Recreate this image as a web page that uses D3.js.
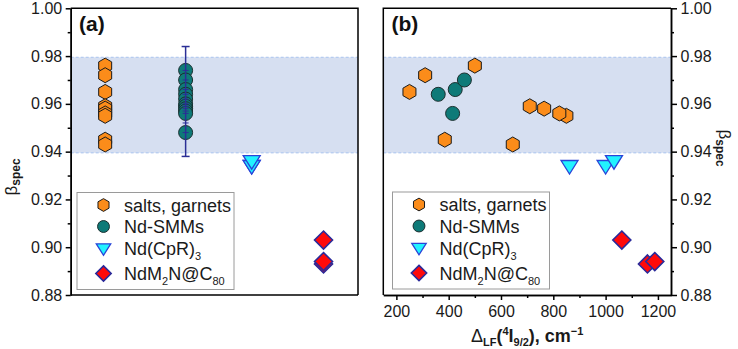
<!DOCTYPE html>
<html>
<head>
<meta charset="utf-8">
<script src="https://cdn.jsdelivr.net/npm/d3@7"></script>
<style>
  body { margin: 0; background: #fff; }
  text { font-family: "Liberation Sans", Arial, sans-serif; }
</style>
</head>
<body>
<svg></svg>
<script>
// ---- data ----
const groups = ["salts, garnets", "Nd-SMMs", "Nd(CpR)3", "NdM2N@C80"]
const groupX = [1.2, 4.0, 6.3, 8.8]          // category position in panel (a)

// panel (a): beta_spec only
const saltsBeta = [0.976, 0.972, 0.965, 0.959, 0.958, 0.956, 0.955, 0.945, 0.943]
const smmBetaA = [0.974, 0.970, 0.966, 0.964, 0.962, 0.960, 0.959, 0.958, 0.957, 0.956, 0.948]
const cprBeta = [0.934, 0.934, 0.936]
const fullBeta = [0.903, 0.893, 0.894]
const smmRange = [0.938, 0.984]
const smmCaps = [0.952]

// panel (b): LF splitting vs beta_spec
const saltsLF = [250, 310, 385, 500, 645, 710, 765, 850, 823]
const saltsBetaB = [0.965, 0.972, 0.945, 0.976, 0.943, 0.959, 0.958, 0.955, 0.956]
const smmLF = [360, 415, 425, 460]
const smmBetaB = [0.964, 0.956, 0.966, 0.970]
const cprLF = [862, 1000, 1032]
const fullLF = [1062, 1160, 1188]

const band = [0.9395, 0.9795]
const yMajor = [0.88, 0.90, 0.92, 0.94, 0.96, 0.98, 1.00]
const yMinor = [0.89, 0.91, 0.93, 0.95, 0.97, 0.99]
const xMajor = [200, 400, 600, 800, 1000, 1200]
const xMinor = [300, 500, 700, 900, 1100]

// ---- layout ----
const width = 738, height = 349
const svg = d3.select("svg").attr("width", width).attr("height", height)
svg.append("rect").attr("width", width).attr("height", height).attr("fill", "#fff")

const y = d3.scaleLinear().domain([0.88, 1.00]).range([295, 8.3])
const xA = d3.scaleLinear().domain([0, 10]).range([70.7, 358])
const xB = d3.scaleLinear().domain([150, 1250]).range([383.3, 671])

// symbols
const hexPath = r => d3.line()(d3.range(6).map(k => {
  const a = (-90 + 60 * k) * Math.PI / 180
  return [r * Math.cos(a), r * Math.sin(a)]
})) + "Z"
const triPath = s => `M${-8.5*s},${-5.5*s}L${8.5*s},${-5.5*s}L0,${8*s}Z`
const diaPath = s => `M0,${-9*s}L${9*s},0L0,${9*s}L${-9*s},0Z`

const styles = [
  {d: s => hexPath(7.5 * s), fill: "#fb8c1a", stroke: "#1a1a1a", sw: 1},
  {d: s => d3.symbol(d3.symbolCircle, Math.PI * 49 * s * s)(), fill: "#0e7a78", stroke: "#1b2f2f", sw: 1},
  {d: s => triPath(s), fill: "#22f2ff", stroke: "#2a44d8", sw: 1.3},
  {d: s => diaPath(s), fill: "#ff0a0a", stroke: "#2a2a9a", sw: 1.6}
]

function drawMarks(g, xs, ys, st, s) {
  g.append("g").selectAll("path")
    .data(d3.zip(xs, ys))
    .enter().append("path")
    .attr("d", st.d(s))
    .attr("transform", d => `translate(${d[0]},${d[1]})`)
    .attr("fill", st.fill)
    .attr("stroke", st.stroke)
    .attr("stroke-width", st.sw)
}

function drawBand(g, x) {
  const [x0, x1] = x.range()
  g.append("rect")
    .attr("x", x0).attr("width", x1 - x0)
    .attr("y", y(band[1])).attr("height", y(band[0]) - y(band[1]))
    .attr("fill", "#d6dff1")
  g.selectAll(".bandline").data(band).enter().append("line")
    .attr("x1", x0).attr("x2", x1)
    .attr("y1", d => y(d)).attr("y2", d => y(d))
    .attr("stroke", "#a9c3ee").attr("stroke-width", 1).attr("stroke-dasharray", "3,2")
}

function drawLegend(g, x0, y0) {
  g.append("rect").attr("x", x0).attr("y", y0).attr("width", 157).attr("height", 97)
    .attr("fill", "#fff").attr("stroke", "#9a9a9a").attr("stroke-width", 1)
  const rows = [12.5, 34, 56, 81]
  const labels = [
    [["salts, garnets", 0]],
    [["Nd-SMMs", 0]],
    [["Nd(CpR)", 0], ["3", 1]],
    [["NdM", 0], ["2", 1], ["N@C", 0], ["80", 1]]
  ]
  groups.forEach((name, i) => {
    drawMarks(g, [x0 + 26.5], [y0 + rows[i]], styles[i], 0.85)
    const t = g.append("text").attr("x", x0 + 47).attr("y", y0 + rows[i] + 6.5)
      .attr("font-size", 18).attr("fill", "#1a1a1a")
    let sub = false
    labels[i].forEach(([s, isSub]) => {
      const ts = t.append("tspan").text(s)
      if (isSub && !sub) ts.attr("font-size", 11).attr("dy", 5)
      if (!isSub && sub) ts.attr("dy", -5)
      sub = !!isSub
    })
  })
}

function styleAxis(ag) {
  ag.selectAll("path, line").attr("stroke", "#000").attr("stroke-width", 1.5)
  ag.selectAll("text").attr("font-size", 16).attr("fill", "#1a1a1a")
    .attr("font-family", "'Liberation Sans', Arial, sans-serif")
}

// ---- panel (a) ----
const gA = svg.append("g")
drawBand(gA, xA)
drawMarks(gA, saltsBeta.map(() => xA(groupX[0])), saltsBeta.map(y), styles[0], 1)
drawMarks(gA, smmBetaA.map(() => xA(groupX[1])), smmBetaA.map(y), styles[1], 1)
drawMarks(gA, cprBeta.map(() => xA(groupX[2])), cprBeta.map(y), styles[2], 1)
drawMarks(gA, fullBeta.map(() => xA(groupX[3])), fullBeta.map(y), styles[3], 1)

// error bar on the Nd-SMM column
const ex = xA(groupX[1])
const eb = gA.append("g").attr("stroke", "#2b2f96").attr("stroke-width", 1.5)
eb.append("line").attr("x1", ex).attr("x2", ex).attr("y1", y(smmRange[0])).attr("y2", y(smmRange[1]))
eb.selectAll(".cap").data(smmRange).enter().append("line")
  .attr("x1", ex - 4).attr("x2", ex + 4).attr("y1", d => y(d)).attr("y2", d => y(d))
eb.selectAll(".tick").data(smmBetaA.concat(smmCaps)).enter().append("line")
  .attr("x1", ex - 3).attr("x2", ex + 3).attr("y1", d => y(d)).attr("y2", d => y(d))
  .attr("stroke-width", 1)

gA.append("path").attr("d", `M${xA.range()[0]},${y(1)}H${xA.range()[1]}V${y(0.88)}`)
  .attr("fill", "none").attr("stroke", "#000").attr("stroke-width", 1.5)
const axA = gA.append("g").attr("transform", `translate(${xA.range()[0]},0)`)
  .call(d3.axisLeft(y).tickValues(yMajor).tickFormat(d3.format(".2f")).tickSize(5).tickSizeOuter(0).tickPadding(3.5))
styleAxis(axA)
const axAm = gA.append("g").attr("transform", `translate(${xA.range()[0]},0)`)
  .call(d3.axisLeft(y).tickValues(yMinor).tickFormat("").tickSize(3).tickSizeOuter(0))
styleAxis(axAm)
gA.append("line").attr("x1", xA.range()[0]).attr("x2", xA.range()[1])
  .attr("y1", y(0.88)).attr("y2", y(0.88)).attr("stroke", "#000").attr("stroke-width", 1.5)

drawLegend(gA, 77, 192.5)

gA.append("text").attr("x", 79).attr("y", 31).attr("font-size", 21).attr("font-weight", "bold")
  .attr("fill", "#111").text("(a)")
const tA = gA.append("text").attr("transform", "translate(17,177) rotate(-90)")
  .attr("text-anchor", "middle").attr("font-size", 17).attr("fill", "#1a1a1a")
tA.append("tspan").text("β")
tA.append("tspan").attr("font-size", 12).attr("font-weight", "bold").attr("dy", 3).text("spec")

// ---- panel (b) ----
const gB = svg.append("g")
drawBand(gB, xB)
drawMarks(gB, saltsLF.map(xB), saltsBetaB.map(y), styles[0], 1)
drawMarks(gB, smmLF.map(xB), smmBetaB.map(y), styles[1], 1)
drawMarks(gB, cprLF.map(xB), cprBeta.map(y), styles[2], 1)
drawMarks(gB, fullLF.map(xB), fullBeta.map(y), styles[3], 1)

gB.append("path").attr("d", `M${xB.range()[1]},${y(1)}H${xB.range()[0]}V${y(0.88)}`)
  .attr("fill", "none").attr("stroke", "#000").attr("stroke-width", 1.5)
const axBy = gB.append("g").attr("transform", `translate(${xB.range()[1]},0)`)
  .call(d3.axisRight(y).tickValues(yMajor).tickFormat(d3.format(".2f")).tickSize(6).tickSizeOuter(0).tickPadding(3.5))
styleAxis(axBy)
const axBym = gB.append("g").attr("transform", `translate(${xB.range()[1]},0)`)
  .call(d3.axisRight(y).tickValues(yMinor).tickFormat("").tickSize(3).tickSizeOuter(0))
styleAxis(axBym)
const axBx = gB.append("g").attr("transform", `translate(0,${y(0.88)})`)
  .call(d3.axisBottom(xB).tickValues(xMajor).tickFormat(d3.format("d")).tickSize(5).tickSizeOuter(0).tickPadding(6))
styleAxis(axBx)
const axBxm = gB.append("g").attr("transform", `translate(0,${y(0.88)})`)
  .call(d3.axisBottom(xB).tickValues(xMinor).tickFormat("").tickSize(3).tickSizeOuter(0))
styleAxis(axBxm)

drawLegend(gB, 392.5, 192)

gB.append("text").attr("x", 391.5).attr("y", 31).attr("font-size", 21).attr("font-weight", "bold")
  .attr("fill", "#111").text("(b)")
const tB = gB.append("text").attr("transform", "translate(719,148) rotate(90)")
  .attr("text-anchor", "middle").attr("font-size", 17).attr("fill", "#1a1a1a")
tB.append("tspan").text("β")
tB.append("tspan").attr("font-size", 12).attr("font-weight", "bold").attr("dy", 3).text("spec")

// x title: Δ_LF(^4 I_9/2), cm^-1
const xt = gB.append("text").attr("x", (xB.range()[0] + xB.range()[1]) / 2).attr("y", 342)
  .attr("text-anchor", "middle").attr("font-size", 18).attr("font-weight", "bold").attr("fill", "#1a1a1a")
xt.append("tspan").attr("font-weight", "normal").text("Δ")
xt.append("tspan").attr("font-size", 11).attr("dy", 4).text("LF")
xt.append("tspan").attr("dy", -4).text("(")
xt.append("tspan").attr("font-size", 11).attr("dy", -7).text("4")
xt.append("tspan").attr("dy", 7).text("I")
xt.append("tspan").attr("font-size", 11).attr("dy", 4).text("9/2")
xt.append("tspan").attr("dy", -4).text("), cm")
xt.append("tspan").attr("font-size", 11).attr("dy", -7).text("−1")
</script>
</body>
</html>
